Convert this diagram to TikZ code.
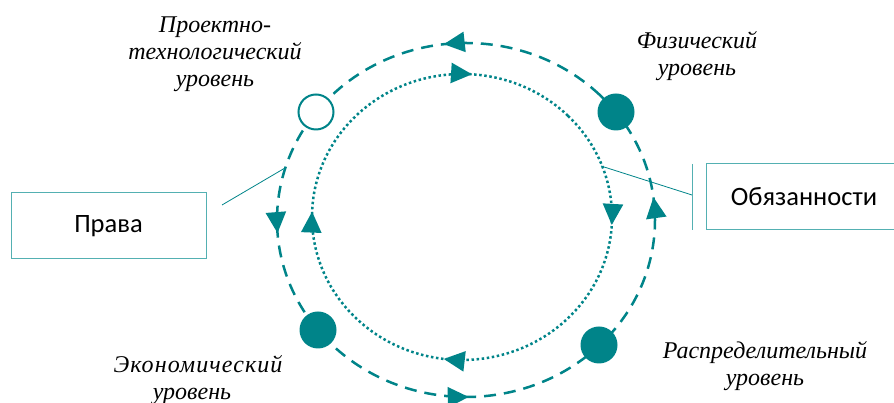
\documentclass[tikz,border=0pt]{standalone}
\usepackage{fontspec}
\setmainfont{Liberation Serif}
\newfontfamily\boxfont{Carlito}
\usetikzlibrary{decorations.markings,arrows.meta}
\definecolor{tealc}{RGB}{0,132,137}
\definecolor{boxc}{RGB}{84,176,178}
\begin{document}
\begin{tikzpicture}[x=1pt,y=1pt,
  outerring/.style={draw=tealc,line width=2.5pt,dash pattern=on 12pt off 8pt},
  innerring/.style={draw=tealc,line width=2.5pt,dash pattern=on 2.5pt off 2.6pt},
  fdot/.style={circle,fill=tealc,minimum size=37pt,inner sep=0pt},
  odot/.style={circle,draw=tealc,fill=white,line width=2pt,minimum size=35pt,inner sep=0pt},
  labbox/.style={draw=boxc,line width=1pt,minimum width=195pt,minimum height=66pt,inner sep=0pt,font=\boxfont\fontsize{26.5}{30}\selectfont},
  lvl/.style={align=center,font=\itshape\fontsize{24}{27}\selectfont},
  callout/.style={draw=tealc,line width=0.8pt}
]
\def\tri{\arrow{Triangle[length=21pt,width=20pt]}}
\useasboundingbox (0,0) rectangle (894,403);
\clip (0,0) rectangle (894,403);
% outer dashed ring (counterclockwise)
\draw[outerring, postaction={decorate}, decoration={markings,
  mark=at position 0.147 with {\tri},
  mark=at position 0.389 with {\tri},
  mark=at position 0.630 with {\tri},
  mark=at position 0.8975 with {\tri}}]
  (466,183) ++(45:189 and 177) arc[start angle=45, end angle=405, x radius=189, y radius=177];
% inner dotted ring (clockwise)
\draw[innerring, postaction={decorate}, decoration={markings,
  mark=at position 0.1317 with {\tri},
  mark=at position 0.393 with {\tri},
  mark=at position 0.629 with {\tri},
  mark=at position 0.884 with {\tri}}]
  (462,186) ++(45:150 and 143) arc[start angle=45, end angle=-315, x radius=150, y radius=143];
% markers
\node[odot] (proj) at (316,291) {};
\node[fdot] (phys) at (616,291) {};
\node[fdot] (econ) at (318,73) {};
\node[fdot] (distr) at (599,58) {};
% level labels
\node[lvl] (lproj) at (215,349) {Проектно-\\технологический\\уровень};
\node[lvl] (lphys) at (697,347) {Физический\\уровень};
\node[lvl] (lecon) at (198,23) {{\addfontfeature{LetterSpace=4.5}Экономический}\\\hspace*{-12pt}уровень};
\node[lvl] (ldistr) at (765,37) {Распределительный\\уровень};
% boxes
\node[labbox] (prava) at (108.5,177) {Права};
\node[labbox, minimum width=196pt] (obyaz) at (804,206) {Обязанности};
% callouts
\coordinate (pravaOn) at (285,235);
\coordinate (pravaEnd) at (222,198);
\draw[callout] (pravaOn) -- (pravaEnd);
\coordinate (obOn) at (601,237);
\coordinate (barTop) at (692,239);
\coordinate (barBot) at (692,173);
\coordinate (barMid) at (692,208);
\draw[callout] (obOn) -- (barMid);
\draw[draw=boxc,line width=1pt] (barTop) -- (barBot);
\end{tikzpicture}
\end{document}
